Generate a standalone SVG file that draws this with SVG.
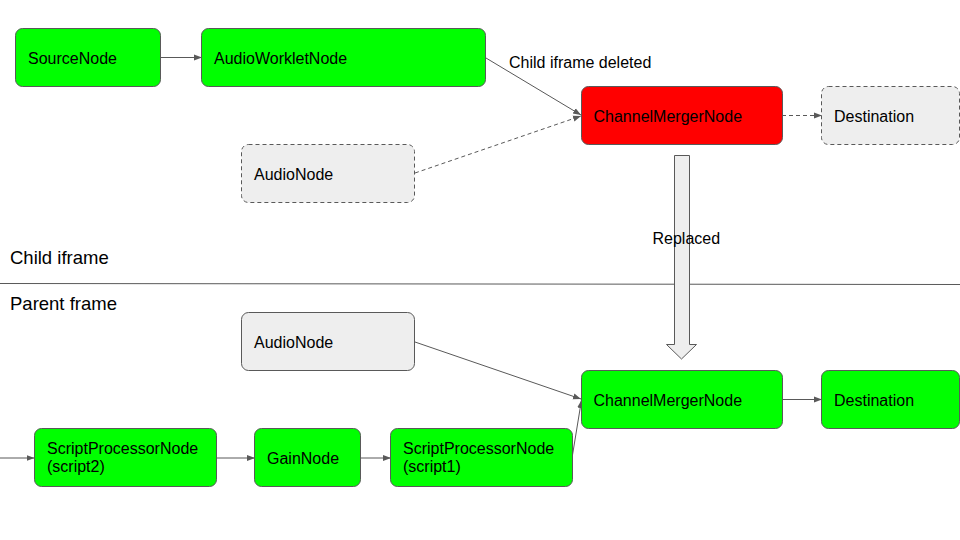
<svg xmlns="http://www.w3.org/2000/svg" width="960" height="540" viewBox="0 0 960 540">
<defs>
<marker id="ah" markerWidth="10" markerHeight="10" refX="8" refY="4" orient="auto" markerUnits="userSpaceOnUse">
<path d="M0,1 L8,4 L0,7 Z" fill="#595959"/>
</marker>
<style>
text{font-family:"Liberation Sans",Arial,sans-serif;font-size:16px;fill:#000}
.green{fill:#00ff00;stroke:#595959;stroke-width:1}
.red{fill:#ff0000;stroke:#595959;stroke-width:1}
.gray{fill:#eeeeee;stroke:#595959;stroke-width:1}
.dash{stroke-dasharray:4,3}
.conn{fill:none;stroke:#595959;stroke-width:1}
.big{font-size:18.5px}
</style>
</defs>
<rect width="960" height="540" fill="#ffffff"/>

<g id="connectors">
<line class="conn" x1="160.5" y1="57.5" x2="202" y2="57.5" marker-end="url(#ah)"/>
<line class="conn" x1="486" y1="58" x2="581" y2="115" marker-end="url(#ah)"/>
<line class="conn dash" x1="415" y1="173" x2="581" y2="116" marker-end="url(#ah)"/>
<line class="conn dash" x1="782" y1="115.5" x2="822" y2="115.5" marker-end="url(#ah)"/>
<line class="conn" x1="415" y1="342" x2="581" y2="399" marker-end="url(#ah)"/>
<line class="conn" x1="572.5" y1="455" x2="581.5" y2="400" marker-end="url(#ah)"/>
<line class="conn" x1="782" y1="399.5" x2="822" y2="399.5" marker-end="url(#ah)"/>
<line class="conn" x1="0" y1="458" x2="34.5" y2="458" marker-end="url(#ah)"/>
<line class="conn" x1="216.5" y1="458" x2="255" y2="458" marker-end="url(#ah)"/>
<line class="conn" x1="361" y1="458" x2="391" y2="458" marker-end="url(#ah)"/>
</g>

<line id="divider" x1="0" y1="283.5" x2="960" y2="284.5" stroke="#595959" stroke-width="1"/>
<text id="child-label" class="big" x="10" y="263.5">Child iframe</text>
<text id="parent-label" class="big" x="10" y="310">Parent frame</text>

<g id="replaced-arrow">
<path class="gray" d="M674.5,155.5 H689.5 V344.5 H696.5 L681.5,359 L666.5,344.5 H674.5 Z"/>
<text x="652.5" y="244">Replaced</text>
</g>

<g id="source-node">
<rect class="green" x="15.5" y="28.5" width="145" height="58" rx="7"/>
<text x="28" y="63.5">SourceNode</text>
</g>
<g id="audioworklet-node">
<rect class="green" x="201.5" y="28.5" width="284" height="58" rx="7"/>
<text x="214" y="63.5">AudioWorkletNode</text>
</g>
<g id="edge-label-deleted">
<text x="509" y="68">Child iframe deleted</text>
</g>
<g id="audio-node-top">
<rect class="gray dash" x="241.5" y="144.5" width="173" height="58" rx="7"/>
<text x="254" y="179.5">AudioNode</text>
</g>
<g id="merger-top">
<rect class="red" x="581.5" y="86.5" width="201" height="58" rx="7"/>
<text x="593.5" y="121.5">ChannelMergerNode</text>
</g>
<g id="destination-top">
<rect class="gray dash" x="821.5" y="86.5" width="138" height="58" rx="7"/>
<text x="834" y="121.5">Destination</text>
</g>

<g id="audio-node-bottom">
<rect class="gray" x="241.5" y="312.5" width="173" height="58" rx="7"/>
<text x="254" y="347.5">AudioNode</text>
</g>
<g id="merger-bottom">
<rect class="green" x="581.5" y="370.5" width="201" height="58" rx="7"/>
<text x="593.5" y="405.5">ChannelMergerNode</text>
</g>
<g id="destination-bottom">
<rect class="green" x="821.5" y="370.5" width="138" height="58" rx="7"/>
<text x="834" y="405.5">Destination</text>
</g>
<g id="script2-node">
<rect class="green" x="34.5" y="428.5" width="182" height="58" rx="7"/>
<text x="47" y="454">ScriptProcessorNode</text>
<text x="47" y="472">(script2)</text>
</g>
<g id="gain-node">
<rect class="green" x="254.5" y="428.5" width="106" height="58" rx="7"/>
<text x="267" y="463.5">GainNode</text>
</g>
<g id="script1-node">
<rect class="green" x="390.5" y="428.5" width="182" height="58" rx="7"/>
<text x="403" y="454">ScriptProcessorNode</text>
<text x="403" y="472">(script1)</text>
</g>
</svg>
